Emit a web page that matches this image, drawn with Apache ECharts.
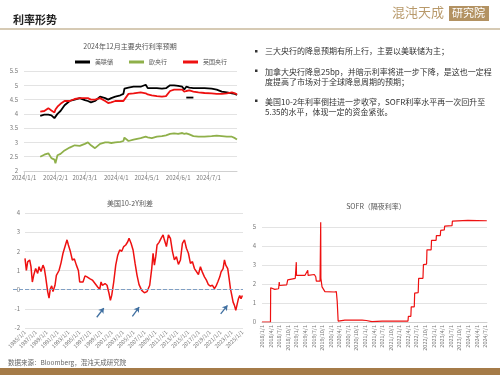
<!DOCTYPE html>
<html>
<head>
<meta charset="utf-8">
<style>
  html, body { margin: 0; padding: 0; background: #fff; }
  #main { width: 500px; height: 375px; }
</style>
<script src="https://cdn.jsdelivr.net/npm/echarts@6/dist/echarts.min.js"></script>
</head>
<body>
<div id="main"></div>
<script>
// 2024年12月主要央行利率预期
var dates1 = ['2024-01-17', '2024-01-21', '2024-01-25', '2024-01-28', '2024-01-31', '2024-02-01', '2024-02-03', '2024-02-06', '2024-02-10', '2024-02-15',
  '2024-02-20', '2024-02-25', '2024-03-01', '2024-03-04', '2024-03-07', '2024-03-11', '2024-03-16', '2024-03-21', '2024-03-24', '2024-03-27',
  '2024-03-31', '2024-04-05', '2024-04-08', '2024-04-09', '2024-04-13', '2024-04-18', '2024-04-25', '2024-04-30', '2024-05-02', '2024-05-06',
  '2024-05-11', '2024-05-16', '2024-05-20', '2024-05-24', '2024-05-28', '2024-06-01', '2024-06-05', '2024-06-07', '2024-06-09', '2024-06-12',
  '2024-06-16', '2024-06-21', '2024-06-27', '2024-07-04', '2024-07-09', '2024-07-14', '2024-07-19', '2024-07-24', '2024-07-27', '2024-07-29'];
var fed = [3.93, 3.97, 3.97, 3.95, 3.85, 3.8, 4.0, 4.1, 4.3, 4.45,
  4.5, 4.55, 4.48, 4.45, 4.4, 4.45, 4.6, 4.55, 4.5, 4.55,
  4.6, 4.65, 4.7, 4.88, 4.92, 4.95, 4.95, 5.02, 4.9, 4.9,
  4.9, 4.88, 4.9, 5.0, 5.0, 4.98, 4.95, 4.85, 4.95, 4.92,
  4.9, 4.9, 4.9, 4.88, 4.85, 4.78, 4.75, 4.72, 4.7, 4.66];
var ecb = [2.5, 2.57, 2.62, 2.45, 2.4, 2.27, 2.55, 2.6, 2.72, 2.82,
  2.9, 2.88, 2.95, 3.0, 2.9, 2.8, 2.95, 3.0, 3.0, 2.98,
  3.0, 3.02, 3.05, 3.17, 3.05, 3.1, 3.15, 3.2, 3.18, 3.15,
  3.2, 3.22, 3.25, 3.3, 3.32, 3.3, 3.33, 3.3, 3.32, 3.28,
  3.22, 3.2, 3.2, 3.22, 3.24, 3.22, 3.2, 3.2, 3.15, 3.1];
var boe = [4.08, 4.1, 4.2, 4.12, 4.05, 4.15, 4.25, 4.35, 4.45, 4.45,
  4.52, 4.55, 4.55, 4.55, 4.5, 4.5, 4.55, 4.45, 4.38, 4.4,
  4.45, 4.45, 4.45, 4.5, 4.7, 4.72, 4.75, 4.72, 4.68, 4.65,
  4.62, 4.6, 4.62, 4.8, 4.85, 4.85, 4.85, 4.78, 4.8, 4.82,
  4.78, 4.75, 4.73, 4.72, 4.7, 4.7, 4.72, 4.75, 4.72, 4.68];
var fedDash = [['2024-06-09', 4.57], ['2024-06-16', 4.57]];

// 美国10-2Y利差 [年份, 利差]
var spreadYears = [1985.00, 1985.25, 1985.49, 1985.86, 1986.10, 1986.35, 1986.60, 1986.96, 1987.33, 1987.58,
  1987.94, 1988.31, 1988.56, 1988.80, 1989.17, 1989.42, 1989.66, 1989.91, 1990.15, 1990.52,
  1990.77, 1991.26, 1991.63, 1991.99, 1992.36, 1992.73, 1992.98, 1993.34, 1993.71, 1994.08,
  1994.45, 1994.82, 1995.06, 1995.31, 1995.67, 1996.04, 1996.41, 1996.90, 1997.39, 1997.88,
  1998.37, 1998.74, 1998.99, 1999.23, 1999.72, 2000.09, 2000.46, 2000.71, 2000.95, 2001.32,
  2001.69, 2002.06, 2002.42, 2002.79, 2003.16, 2003.53, 2003.90, 2004.14, 2004.51, 2004.88,
  2005.25, 2005.61, 2005.98, 2006.47, 2006.96, 2007.45, 2007.94, 2008.31, 2008.56, 2008.80,
  2009.05, 2009.29, 2009.66, 2010.03, 2010.40, 2010.64, 2011.01, 2011.38, 2011.75, 2012.12,
  2012.48, 2012.85, 2013.22, 2013.59, 2013.96, 2014.33, 2014.69, 2015.06, 2015.43, 2015.80,
  2016.17, 2016.53, 2016.90, 2017.27, 2017.64, 2018.01, 2018.37, 2018.74, 2019.11, 2019.48,
  2019.85, 2020.21, 2020.46, 2020.83, 2021.07, 2021.44, 2021.69, 2021.93, 2022.29, 2022.55,
  2022.79, 2023.04, 2023.28, 2023.53, 2023.77, 2024.01, 2024.26, 2024.50, 2024.74, 2024.98];
var spreadValues = [1.63, 1.0, 1.45, 1.55, 1.2, 0.4, 0.75, 1.1, 0.85, 1.2,
  0.95, 1.28, 1.1, 0.67, -0.1, -0.44, 0.05, 0.2, -0.1, 0.23,
  0.75, 1.0, 1.4, 1.9, 2.25, 2.6, 2.33, 2.0, 1.55, 1.6,
  1.28, 1.0, 0.4, 0.44, 0.4, 0.72, 0.67, 0.58, 0.5, 0.32,
  0.14, 0.02, 0.4, 0.23, 0.32, 0.23, -0.2, -0.56, -0.3, 0.4,
  1.28, 1.8, 2.07, 2.0, 2.25, 2.33, 2.5, 2.68, 2.42, 2.07,
  1.37, 0.75, 0.26, -0.04, -0.16, -0.1, 0.23, 1.1, 1.9, 1.28,
  1.72, 2.33, 2.47, 2.68, 2.86, 2.6, 2.25, 2.86, 2.68, 2.0,
  1.55, 1.72, 1.32, 1.55, 2.42, 2.6, 2.16, 1.9, 1.37, 1.46,
  1.1, 1.0, 0.79, 1.2, 0.9, 0.67, 0.5, 0.26, 0.19, 0.23,
  0.05, 0.23, 0.4, 0.67, 0.93, 1.1, 1.55, 1.28, 1.1, 0.58,
  0.05, -0.3, -0.65, -0.82, -1.08, -1.0, -0.47, -0.3, -0.47, -0.3];
// 图中箭头 [起点年份, 起点值, 终点年份, 终点值]
var spreadArrows = [[1998.2, -1.44, 1999.5, -0.96], [2004.75, -1.39, 2006.0, -0.91], [2021.0, -1.26, 2022.24, -0.82]];

// SOFR（隔夜利率）
var sofrDates = ['2018-01-01', '2018-03-30', '2018-04-02', '2018-05-15', '2018-06-25', '2018-07-02', '2018-07-05', '2018-09-20', '2018-10-01', '2018-12-20',
  '2018-12-31', '2019-01-03', '2019-04-01', '2019-05-01', '2019-05-05', '2019-07-10', '2019-07-25', '2019-08-01', '2019-09-10', '2019-09-17',
  '2019-09-19', '2019-10-01', '2019-10-20', '2019-11-01', '2020-02-10', '2020-03-01', '2020-03-10', '2020-03-20', '2020-06-01', '2020-12-01',
  '2021-01-15', '2021-03-15', '2021-07-01', '2022-04-03', '2022-04-07', '2022-05-03', '2022-05-07', '2022-06-09', '2022-06-13', '2022-07-20',
  '2022-07-25', '2022-09-10', '2022-09-15', '2022-10-18', '2022-10-22', '2022-12-06', '2022-12-10', '2023-01-28', '2023-02-01', '2023-03-12',
  '2023-03-16', '2023-04-24', '2023-04-28', '2023-07-15', '2023-07-19', '2024-01-02', '2024-07-20'];
var sofrValues = [0, 0, 1.8, 1.72, 1.75, 2.1, 1.92, 1.95, 2.22, 2.3,
  3.15, 2.45, 2.45, 2.72, 2.45, 2.5, 2.38, 2.15, 2.15, 5.25,
  2.3, 1.85, 1.85, 1.6, 1.58, 1.6, 1.1, 0.05, 0.1, 0.1,
  0.08, 0.02, 0.05, 0.05, 0.3, 0.3, 0.8, 0.8, 1.52, 1.55,
  2.3, 2.3, 3.02, 3.05, 3.8, 3.8, 4.3, 4.3, 4.55, 4.55,
  4.82, 4.85, 5.05, 5.07, 5.31, 5.35, 5.33];

var labelFont = 'Noto Sans CJK SC';
var gridGray = '#e3e3e3';

function monthsFrom2018(s) {
  var p = s.split('-');
  return (+p[0] - 2018) * 12 + (+p[1] - 1) + (+p[2] - 1) / 30;
}
function monthLabel(v) {
  var m = Math.round(v);
  return (2018 + Math.floor(m / 12)) + '/' + (m % 12 + 1) + '/1';
}

var myChart = echarts.init(document.getElementById('main'));

var axisText = { color: '#777', fontSize: 6, fontFamily: labelFont };

option = {
  animation: false,
  textStyle: { fontFamily: labelFont },
  title: [
    { text: '利率形势', left: 8, top: 9, textStyle: { fontSize: 11, fontWeight: 'bold', color: '#222' } },
    { text: '2024年12月主要央行利率预期', left: 125, top: 38, textAlign: 'center', textStyle: { fontSize: 7, fontWeight: 'normal', color: '#555' } },
    { text: '美国10-2Y利差', left: 125, top: 195, textAlign: 'center', textStyle: { fontSize: 7, fontWeight: 'normal', color: '#555' } },
    { text: 'SOFR（隔夜利率）', left: 371, top: 198, textAlign: 'center', textStyle: { fontSize: 7, fontWeight: 'normal', color: '#555' } }
  ],
  legend: {
    left: 70,
    top: 54,
    itemWidth: 15,
    itemHeight: 3,
    itemGap: 16,
    icon: 'rect',
    textStyle: { fontSize: 6, color: '#555' },
    data: ['美联储', '欧央行', '英国央行']
  },
  grid: [
    { left: 24, top: 71, width: 213, height: 100 },
    { left: 25, top: 213, width: 218, height: 115 },
    { left: 262, top: 217.5, width: 225, height: 104.5 }
  ],
  xAxis: [
    {
      type: 'time', gridIndex: 0,
      min: '2024-01-01', max: '2024-07-29', splitNumber: 7,
      axisLine: { lineStyle: { color: '#d0d0d0' } },
      axisTick: { show: true, lineStyle: { color: '#d0d0d0' } },
      splitLine: { show: false },
      axisLabel: Object.assign({ formatter: '{yyyy}/{M}/{d}', margin: 4, showMaxLabel: false, hideOverlap: false }, axisText)
    },
    {
      type: 'value', gridIndex: 1,
      min: 0, max: 40.1, interval: 2,
      axisLine: { show: false },
      axisTick: { show: false },
      splitLine: { show: false },
      axisLabel: Object.assign({ rotate: 45, margin: 3, fontSize: 5.5, showMaxLabel: false, formatter: function (v) { return (1985 + v) + '/1/1'; } }, axisText, { fontSize: 5.5 })
    },
    {
      type: 'value', gridIndex: 2,
      min: 0, max: 78.7, interval: 3,
      axisLine: { lineStyle: { color: '#d0d0d0' } },
      axisTick: { show: false },
      splitLine: { show: false },
      axisLabel: Object.assign({ rotate: 90, margin: 3, showMaxLabel: false, formatter: monthLabel }, axisText, { fontSize: 5.5 })
    }
  ],
  yAxis: [
    {
      type: 'value', gridIndex: 0, min: 2, max: 5.5, interval: 0.5,
      axisLine: { show: false }, axisTick: { show: false },
      splitLine: { lineStyle: { color: gridGray } },
      axisLabel: Object.assign({ margin: 6 }, axisText)
    },
    {
      type: 'value', gridIndex: 1, min: -2, max: 4, interval: 1,
      axisLine: { show: false }, axisTick: { show: false },
      splitLine: { lineStyle: { color: gridGray } },
      axisLabel: Object.assign({ margin: 5 }, axisText)
    },
    {
      type: 'value', gridIndex: 2, min: 0, max: 5.5, interval: 1,
      axisLine: { show: false }, axisTick: { show: false },
      splitLine: { showMaxLine: false, lineStyle: { color: gridGray } },
      axisLabel: Object.assign({ margin: 6, showMaxLabel: false }, axisText)
    }
  ],
  series: [
    {
      name: '美联储', type: 'line', xAxisIndex: 0, yAxisIndex: 0, symbol: 'none',
      color: '#000', lineStyle: { width: 1.8 },
      data: dates1.map(function (d, i) { return [d, fed[i]]; })
    },
    {
      name: '欧央行', type: 'line', xAxisIndex: 0, yAxisIndex: 0, symbol: 'none',
      color: '#8fb04a', lineStyle: { width: 1.8 },
      data: dates1.map(function (d, i) { return [d, ecb[i]]; })
    },
    {
      name: '英国央行', type: 'line', xAxisIndex: 0, yAxisIndex: 0, symbol: 'none',
      color: '#ee1111', lineStyle: { width: 1.8 },
      data: dates1.map(function (d, i) { return [d, boe[i]]; })
    },
    {
      name: '美联储', type: 'line', xAxisIndex: 0, yAxisIndex: 0, symbol: 'none',
      color: '#000', lineStyle: { width: 1.8 },
      data: fedDash
    },
    {
      name: '美国10-2Y利差', type: 'line', xAxisIndex: 1, yAxisIndex: 1, symbol: 'none',
      color: '#ee1111', lineStyle: { width: 1.5 },
      data: spreadYears.map(function (y, i) { return [y - 1985, spreadValues[i]]; }),
      markLine: {
        silent: true,
        animation: false,
        label: { show: false },
        data: [[
          { yAxis: 0, x: 13, symbol: 'none', lineStyle: { color: '#7f9fc4', type: 'dashed', width: 1 } },
          { yAxis: 0, x: 243, symbol: 'none' }
        ]].concat(spreadArrows.map(function (a) {
          return [
            { coord: [a[0] - 1985, a[1]], symbol: 'none', lineStyle: { color: '#3f6fa0', type: 'solid', width: 1.3 } },
            { coord: [a[2] - 1985, a[3]], symbol: 'arrow', symbolSize: 5 }
          ];
        }))
      }
    },
    {
      name: 'SOFR', type: 'line', xAxisIndex: 2, yAxisIndex: 2, symbol: 'none',
      color: '#ee1111', lineStyle: { width: 1.2 },
      data: sofrDates.map(function (d, i) { return [monthsFrom2018(d), sofrValues[i]]; })
    }
  ],
  graphic: [
    { type: 'rect', shape: { x: 0, y: 28, width: 500, height: 2 }, style: { fill: '#d6cab4' } },
    { type: 'rect', shape: { x: 0, y: 368, width: 500, height: 7 }, style: { fill: '#a57b48' } },
    { type: 'text', left: 392, top: 6, style: { text: '混沌天成', fill: '#b8996a', font: '13px "Noto Sans CJK SC"' } },
    { type: 'rect', shape: { x: 449, y: 6, width: 40, height: 15 }, style: { fill: '#b39262' } },
    { type: 'text', left: 452, top: 7.5, style: { text: '研究院', fill: '#fff', font: '11px "Noto Sans CJK SC"' } },
    { type: 'rect', shape: { x: 255, y: 50, width: 2.5, height: 2.5 }, style: { fill: '#333' } },
    { type: 'rect', shape: { x: 255, y: 69.5, width: 2.5, height: 2.5 }, style: { fill: '#333' } },
    { type: 'rect', shape: { x: 255, y: 99.5, width: 2.5, height: 2.5 }, style: { fill: '#333' } },
    { type: 'text', left: 265, top: 47, style: { text: '三大央行的降息预期有所上行，主要以美联储为主；', fill: '#333', font: '8px "Noto Sans CJK SC"' } },
    { type: 'text', left: 265, top: 66.5, style: { text: '加拿大央行降息25bp，并暗示利率将进一步下降，是这也一定程\n度提高了市场对于全球降息周期的预期；', fill: '#333', font: '8px "Noto Sans CJK SC"', lineHeight: 10.5 } },
    { type: 'text', left: 265, top: 96.5, style: { text: '美国10-2年利率倒挂进一步收窄，SOFR利率水平再一次回升至\n5.35的水平，体现一定的资金紧张。', fill: '#333', font: '8px "Noto Sans CJK SC"', lineHeight: 10.5 } },
    { type: 'text', left: 8, top: 359, style: { text: '数据来源：Bloomberg，混沌天成研究院', fill: '#666', font: '6.5px "Noto Sans CJK SC"' } }
  ]
};
myChart.setOption(option);
</script>
</body>
</html>
